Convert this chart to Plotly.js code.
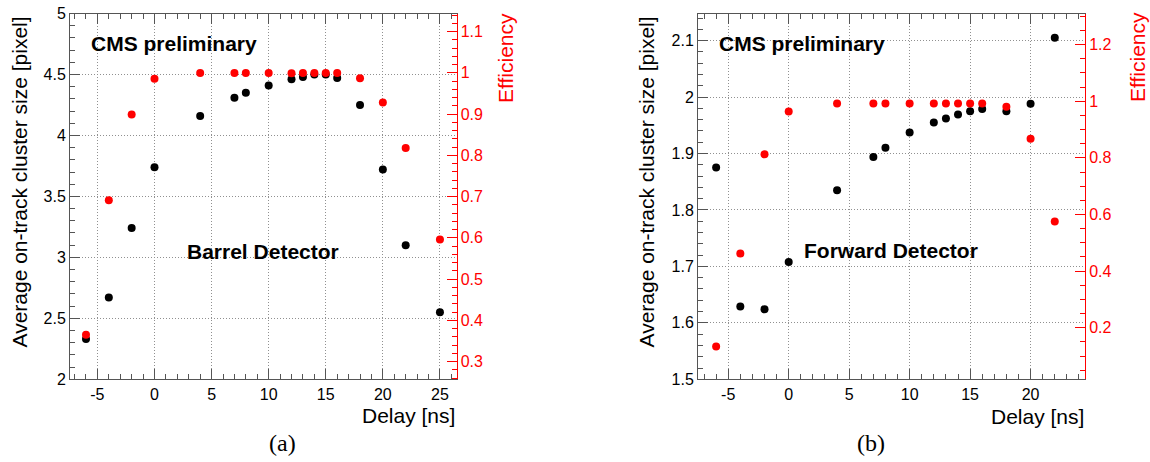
<!DOCTYPE html>
<html><head><meta charset="utf-8">
<script src="https://cdn.plot.ly/plotly-3.0.1.min.js"></script>
<style>html,body{margin:0;padding:0;background:#fff}#chart{width:1150px;height:462px}</style>
</head><body><div id="chart"></div>
<script>
// ---- data ----
const barrelDelay = [-6,-4,-2,0,4,7,8,10,12,13,14,15,16,18,20,22,25];
const barrelClusterSize = [2.33,2.67,3.24,3.74,4.16,4.31,4.35,4.41,4.46,4.48,4.50,4.50,4.47,4.25,3.72,3.10,2.55];
const barrelEfficiency = [0.365,0.691,0.899,0.986,1.0,1.0,1.0,1.0,0.999,1.0,1.0,1.0,1.0,0.987,0.928,0.818,0.596];

const forwardDelay = [-6,-4,-2,0,4,7,8,10,12,13,14,15,16,18,20,22];
const forwardClusterSize = [1.875,1.629,1.624,1.708,1.835,1.894,1.910,1.937,1.955,1.962,1.969,1.975,1.979,1.975,1.988,2.105];
const forwardEfficiency = [0.134,0.462,0.8125,0.964,0.992,0.992,0.992,0.992,0.992,0.992,0.992,0.992,0.992,0.981,0.868,0.575];

const barrelXTicks = [-5,0,5,10,15,20,25];
const barrelXTickText = ["-5","0","5","10","15","20","25"];
const forwardXTicks = [-5,0,5,10,15,20];
const forwardXTickText = ["-5","0","5","10","15","20"];

const yTitle = "Average on-track cluster size [pixel]";
const effTitle = "Efficiency";
const xTitle = "Delay [ns]";

// ---- layout helpers ----
const W = 1150, H = 462;
const px = x => x / W;
const py = y => 1 - y / H;
const SANS = "Liberation Sans, Arial, sans-serif";
const FRAME = "#555";
const GRID = "#909090";

const traces = [
  {x: barrelDelay, y: barrelClusterSize, xaxis: "x", yaxis: "y", mode: "markers", type: "scatter",
   marker: {color: "#000", size: 8}, name: "Barrel cluster size"},
  {x: barrelDelay, y: barrelEfficiency, xaxis: "x", yaxis: "y2", mode: "markers", type: "scatter",
   marker: {color: "#ff0000", size: 8}, name: "Barrel efficiency"},
  {x: forwardDelay, y: forwardClusterSize, xaxis: "x2", yaxis: "y3", mode: "markers", type: "scatter",
   marker: {color: "#000", size: 8}, name: "Forward cluster size"},
  {x: forwardDelay, y: forwardEfficiency, xaxis: "x2", yaxis: "y4", mode: "markers", type: "scatter",
   marker: {color: "#ff0000", size: 8}, name: "Forward efficiency"}
];

function xAxis(domain, range, vals, text) {
  return {
    domain: domain, range: range, tickmode: "array", tickvals: vals, ticktext: text,
    ticks: "inside", ticklen: 10, tickwidth: 1, tickcolor: FRAME, showline: true, linecolor: FRAME, linewidth: 1,
    mirror: "ticks", showgrid: true, gridcolor: GRID, griddash: "1px,2px", gridwidth: 1,
    zeroline: false, automargin: false,
    tickfont: {family: SANS, size: 16, color: "#000"},
    minor: {dtick: 1, tick0: 0, ticks: "inside", ticklen: 5, tickwidth: 1, tickcolor: FRAME, showgrid: false}
  };
}
function yLeft(anchor, domain, range, dtick, minorDtick) {
  return {
    anchor: anchor, domain: domain, range: range, dtick: dtick, tick0: 0,
    ticks: "inside", ticklen: 10, tickwidth: 1, tickcolor: FRAME, showline: true, linecolor: FRAME, linewidth: 1,
    showgrid: true, gridcolor: GRID, griddash: "1px,2px", gridwidth: 1, zeroline: false, automargin: false,
    tickfont: {family: SANS, size: 16, color: "#000"},
    minor: {dtick: minorDtick, tick0: 0, ticks: "inside", ticklen: 5, tickwidth: 1, tickcolor: FRAME, showgrid: false}
  };
}
function yRight(anchor, over, range, dtick, minorDtick) {
  return {
    anchor: anchor, overlaying: over, side: "right", range: range, dtick: dtick, tick0: 0,
    ticks: "inside", ticklen: 10, tickwidth: 1, tickcolor: "#ff0000", showline: true, linecolor: "#ff0000", linewidth: 1,
    showgrid: false, zeroline: false, automargin: false,
    tickfont: {family: SANS, size: 16, color: "#ff0000"},
    minor: {dtick: minorDtick, tick0: 0, ticks: "inside", ticklen: 5, tickwidth: 1, tickcolor: "#ff0000", showgrid: false}
  };
}

const leftX = [px(70), px(456.5)];
const rightX = [px(698), px(1085)];
const yDom = [py(379.3), py(13.5)];

const ann = (text, x, y, opts) => Object.assign({
  text: text, x: px(x), y: py(y), xref: "paper", yref: "paper", showarrow: false,
  xanchor: "center", yanchor: "middle", font: {family: SANS, size: 21, color: "#000"}
}, opts || {});

const layout = {
  width: W, height: H, margin: {l: 0, r: 0, t: 0, b: 0},
  paper_bgcolor: "#fff", plot_bgcolor: "#fff", showlegend: false,
  xaxis: xAxis(leftX, [-7.4, 26.45], barrelXTicks, barrelXTickText),
  yaxis: yLeft("x", yDom, [2, 5], 0.5, 0.1),
  yaxis2: yRight("x", "y", [0.257, 1.144], 0.1, 0.02),
  xaxis2: xAxis(rightX, [-7.5, 24.5], forwardXTicks, forwardXTickText),
  yaxis3: yLeft("x2", yDom, [1.5, 2.148], 0.1, 0.02),
  yaxis4: yRight("x2", "y3", [0.018, 1.31], 0.2, 0.05),
  annotations: [
    ann(yTitle, 19, 182.5, {textangle: -90}),
    ann(effTitle, 506, 58, {textangle: -90, font: {family: SANS, size: 21, color: "#ff0000"}}),
    ann(xTitle, 408.7, 415),
    ann("<b>CMS preliminary</b>", 174, 43),
    ann("<b>Barrel Detector</b>", 263, 251),
    ann("(a)", 282, 443, {font: {family: "Liberation Serif, Times New Roman, serif", size: 24, color: "#000"}}),
    ann(yTitle, 646, 182.5, {textangle: -90}),
    ann(effTitle, 1138, 57, {textangle: -90, font: {family: SANS, size: 21, color: "#ff0000"}}),
    ann(xTitle, 1037.3, 416),
    ann("<b>CMS preliminary</b>", 802, 43),
    ann("<b>Forward Detector</b>", 891, 250),
    ann("(b)", 871, 443, {font: {family: "Liberation Serif, Times New Roman, serif", size: 24, color: "#000"}})
  ]
};

Plotly.newPlot("chart", traces, layout, {displayModeBar: false, staticPlot: true});
</script>
</body></html>
